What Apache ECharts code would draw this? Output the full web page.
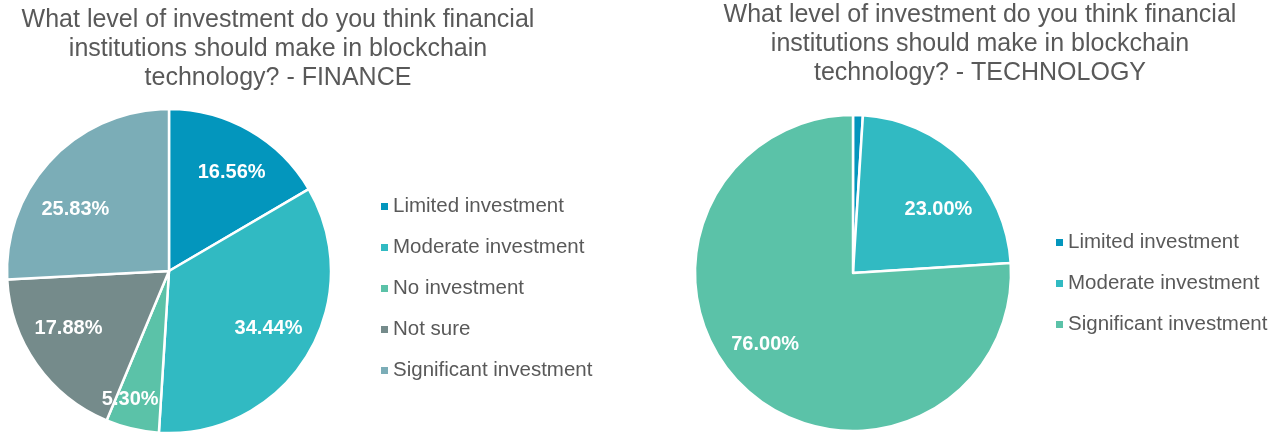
<!DOCTYPE html>
<html>
<head>
<meta charset="utf-8">
<script src="https://cdn.jsdelivr.net/npm/echarts@6/dist/echarts.min.js"></script>
<style>
  html, body { margin: 0; padding: 0; background: #fff; }
  #chart { width: 1285px; height: 434px; }
</style>
</head>
<body>
<div id="chart"></div>
<script>
// Survey answers, percent of respondents
const financeCategories = ['Limited investment', 'Moderate investment', 'No investment', 'Not sure', 'Significant investment'];
const financeValues = [16.56, 34.44, 5.30, 17.88, 25.83];

const techCategories = ['Limited investment', 'Moderate investment', 'Significant investment'];
const techValues = [1.00, 23.00, 76.00];

const financeTitle = 'What level of investment do you think financial\ninstitutions should make in blockchain\ntechnology? - FINANCE';
const techTitle = 'What level of investment do you think financial\ninstitutions should make in blockchain\ntechnology? - TECHNOLOGY';

// Slice colours follow series order in each chart
const palette = ['#0396BD', '#31BAC2', '#5BC2A8', '#758B8B', '#7BADB7'];

// Small nudges for the percentage labels (px), per chart and slice index
const financeLabelShift = [[4, 4], [-1, -4], [-12, 14], [-4, -10], [-8, 20]];
const techLabelShift = [[0, 0], [4, 18], [-9, -12]];

const FONT = '"Liberation Sans", Arial, Helvetica, sans-serif';
const TEXT_GREY = '#595959';

// Transparent ring used only to place the percentage labels further out than the pie's mid-radius
function labelRing(values, center, r, shifts) {
  return {
    type: 'pie',
    silent: true,
    center: center,
    radius: [r * 0.42, r],
    startAngle: 90,
    clockwise: true,
    legendHoverLink: false,
    itemStyle: { color: 'rgba(0,0,0,0)', borderWidth: 0 },
    label: {
      show: true,
      position: 'inside',
      color: '#fff',
      fontFamily: FONT,
      fontWeight: 'bold',
      fontSize: 20,
      formatter: p => (p.value >= 2 ? p.value.toFixed(2) + '%' : '')
    },
    labelLine: { show: false },
    emphasis: { disabled: true },
    data: values.map((v, i) => ({ name: 'label-' + i, value: v, label: { offset: shifts[i] } }))
  };
}

function pie(names, values, center, r) {
  return {
    type: 'pie',
    center: center,
    radius: r,
    startAngle: 90,
    clockwise: true,
    itemStyle: { borderColor: '#fff', borderWidth: 2.5 },
    label: { show: false },
    labelLine: { show: false },
    emphasis: { disabled: true },
    data: names.map((n, i) => ({ name: n, value: values[i], itemStyle: { color: palette[i] } }))
  };
}

function legend(names, left, top) {
  return {
    orient: 'vertical',
    left: left,
    top: top,
    icon: 'rect',
    itemWidth: 7,
    itemHeight: 7,
    itemGap: 20,
    selectedMode: false,
    itemStyle: { borderWidth: 0 },
    textStyle: { color: TEXT_GREY, fontFamily: FONT, fontSize: 20.5, lineHeight: 21, padding: [0, 0, 0, 0] },
    data: names.map((n, i) => ({ name: n, itemStyle: { color: palette[i], borderWidth: 0 } }))
  };
}

function title(text, centerX, top) {
  return {
    text: text,
    left: centerX,
    top: top,
    textAlign: 'center',
    textStyle: { color: TEXT_GREY, fontFamily: FONT, fontWeight: 'normal', fontSize: 25, lineHeight: 29, align: 'center' }
  };
}

const chart = echarts.init(document.getElementById('chart'), null, { renderer: 'canvas' });

chart.setOption({
  animation: false,
  backgroundColor: '#fff',
  title: [
    title(financeTitle, 273, 1),
    title(techTitle, 975, -4)
  ],
  legend: [
    legend(financeCategories, 376, 191),
    legend(techCategories, 1051, 227)
  ],
  series: [
    pie(financeCategories, financeValues, [169, 271], 162),
    pie(techCategories, techValues, [853, 273], 158),
    labelRing(financeValues, [169, 271], 162, financeLabelShift),
    labelRing(techValues, [853, 273], 158, techLabelShift)
  ]
});
</script>
</body>
</html>
